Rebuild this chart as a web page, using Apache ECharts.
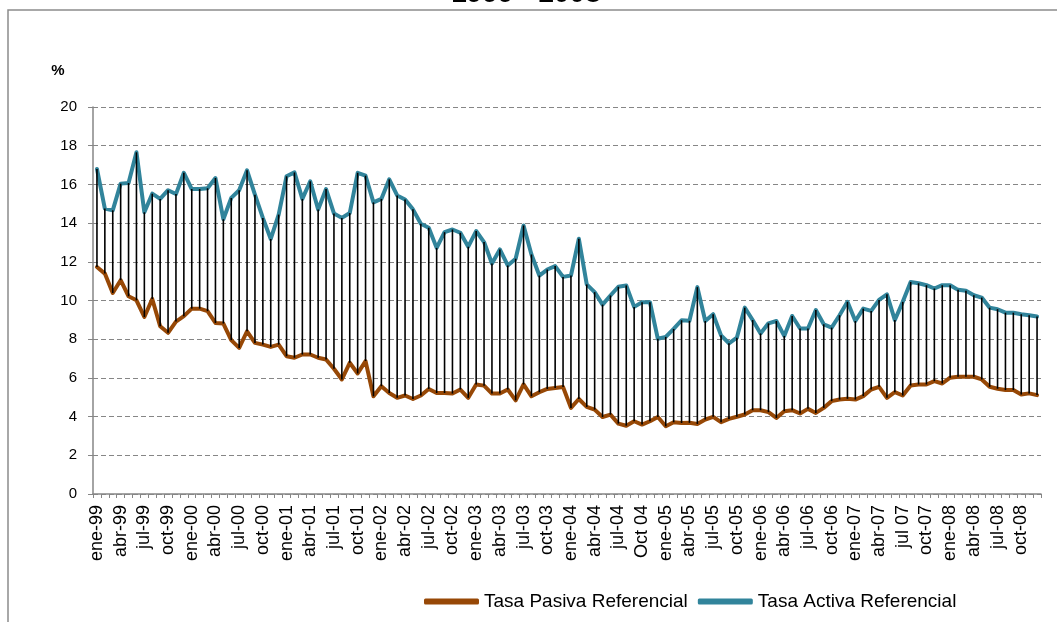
<!DOCTYPE html>
<html>
<head>
<meta charset="utf-8">
<script src="https://cdn.jsdelivr.net/npm/echarts@6/dist/echarts.min.js"></script>
<style>
html,body{margin:0;padding:0;background:#fff;}
#c{width:1057px;height:622px;}
</style>
</head>
<body>
<div id="c"></div>
<script>
const categories = [
'ene-99','feb-99','mar-99','abr-99','may-99','jun-99','jul-99','ago-99','sep-99','oct-99','nov-99','dic-99',
'ene-00','feb-00','mar-00','abr-00','may-00','jun-00','jul-00','ago-00','sep-00','oct-00','nov-00','dic-00',
'ene-01','feb-01','mar-01','abr-01','may-01','jun-01','jul-01','ago-01','sep-01','oct-01','nov-01','dic-01',
'ene-02','feb-02','mar-02','abr-02','may-02','jun-02','jul-02','ago-02','sep-02','oct-02','nov-02','dic-02',
'ene-03','feb-03','mar-03','abr-03','may-03','jun-03','jul-03','ago-03','sep-03','oct-03','nov-03','dic-03',
'ene-04','feb-04','mar-04','abr-04','may-04','jun-04','jul-04','ago-04','sep-04','Oct 04','nov-04','dic-04',
'ene-05','feb-05','mar-05','abr-05','may-05','jun-05','jul-05','ago-05','sep-05','oct-05','nov-05','dic-05',
'ene-06','feb-06','mar-06','abr-06','may-06','jun-06','jul-06','ago-06','sep-06','oct-06','nov-06','dic-06',
'ene-07','feb-07','mar-07','abr-07','may-07','jun-07','jul 07','ago-07','sep-07','oct-07','nov-07','dic-07',
'ene-08','feb-08','mar-08','abr-08','may-08','jun-08','jul-08','ago-08','sep-08','oct-08','nov-08','dic-08'
];

const tasaActiva = [
16.8, 14.75, 14.66, 16.04, 16.07, 17.66, 14.56, 15.52, 15.25, 15.7, 15.5, 16.6,
15.76, 15.76, 15.8, 16.33, 14.2, 15.3, 15.7, 16.73, 15.47, 14.27, 13.18, 14.44,
16.42, 16.62, 15.25, 16.16, 14.7, 15.76, 14.5, 14.27, 14.52, 16.6, 16.45, 15.07,
15.25, 16.26, 15.43, 15.22, 14.71, 13.97, 13.76, 12.72, 13.53, 13.67, 13.5, 12.78,
13.59, 13.02, 11.91, 12.64, 11.81, 12.16, 13.88, 12.38, 11.29, 11.6, 11.78, 11.22,
11.29, 13.19, 10.83, 10.43, 9.79, 10.26, 10.71, 10.78, 9.67, 9.91, 9.91, 8.02,
8.12, 8.53, 8.98, 8.95, 10.69, 8.94, 9.29, 8.2, 7.79, 8.08, 9.63, 8.99,
8.3, 8.82, 8.94, 8.17, 9.2, 8.55, 8.55, 9.51, 8.77, 8.6, 9.24, 9.93,
8.94, 9.58, 9.46, 10.03, 10.32, 8.99, 9.93, 10.96, 10.89, 10.79, 10.62, 10.79,
10.79, 10.55, 10.5, 10.27, 10.15, 9.63, 9.55, 9.37, 9.37, 9.29, 9.24, 9.17
];

const tasaPasiva = [
11.73, 11.39, 10.39, 11.05, 10.22, 10.01, 9.15, 10.08, 8.67, 8.33, 8.91, 9.19,
9.58, 9.58, 9.45, 8.84, 8.81, 7.95, 7.55, 8.41, 7.81, 7.72, 7.6, 7.72,
7.12, 7.04, 7.21, 7.21, 7.04, 6.95, 6.47, 5.92, 6.78, 6.23, 6.87, 5.05,
5.57, 5.22, 4.97, 5.09, 4.91, 5.09, 5.43, 5.22, 5.22, 5.19, 5.4, 4.97,
5.66, 5.6, 5.19, 5.19, 5.4, 4.84, 5.66, 5.05, 5.26, 5.43, 5.48, 5.53,
4.45, 4.91, 4.5, 4.36, 3.98, 4.1, 3.64, 3.53, 3.76, 3.59, 3.76, 3.98,
3.5, 3.71, 3.67, 3.68, 3.62, 3.85, 3.99, 3.71, 3.88, 3.99, 4.11, 4.33,
4.33, 4.23, 3.93, 4.28, 4.33, 4.16, 4.4, 4.19, 4.45, 4.8, 4.88, 4.92,
4.88, 5.06, 5.4, 5.54, 4.97, 5.26, 5.09, 5.61, 5.66, 5.66, 5.83, 5.71,
6.01, 6.06, 6.06, 6.06, 5.92, 5.54, 5.44, 5.37, 5.37, 5.14, 5.2, 5.11
];

const seriesNames = ['Tasa Pasiva Referencial', 'Tasa Activa Referencial'];
const titleText = '1999 - 2008';
const unitText = '%';

const FONT = '"Liberation Sans", Arial, sans-serif';
const chart = echarts.init(document.getElementById('c'), null, {renderer: 'canvas'});

const hiloData = categories.map((c, i) => [i, tasaPasiva[i], tasaActiva[i]]);

const option = {
  animation: false,
  backgroundColor: '#fff',
  textStyle: {fontFamily: FONT},
  grid: {left: 93, right: 16, top: 107, bottom: 128, containLabel: false},
  graphic: [
    {type: 'rect', silent: true, shape: {x: 8, y: 10, width: 1200, height: 800},
     style: {fill: 'none', stroke: '#8c8c8c', lineWidth: 1.5}, z: -10},
    {type: 'text', silent: true, x: 526, y: -6,
     style: {text: titleText, font: 'bold 28px ' + FONT, fill: '#000', align: 'center', verticalAlign: 'middle'}},
    {type: 'text', silent: true, x: 58, y: 71,
     style: {text: unitText, font: 'bold 15px ' + FONT, fill: '#000', align: 'center', verticalAlign: 'middle'}}
  ],
  legend: {
    data: seriesNames,
    left: 419, top: 587,
    icon: 'roundRect',
    itemWidth: 55, itemHeight: 6, itemGap: 10,
    textStyle: {fontSize: 19, color: '#000', fontFamily: FONT}
  },
  xAxis: {
    type: 'category', data: categories, boundaryGap: true,
    axisLine: {lineStyle: {color: '#868686', width: 1.5}},
    axisTick: {show: true, interval: 0, length: 4, lineStyle: {color: '#868686', width: 1}},
    axisLabel: {interval: 2, rotate: 90, fontSize: 18, color: '#000', margin: 11, fontFamily: FONT},
    splitLine: {show: false}
  },
  yAxis: {
    type: 'value', min: 0, max: 20, interval: 2,
    axisLine: {show: true, lineStyle: {color: '#868686', width: 1.5}},
    axisTick: {show: true, length: 5, lineStyle: {color: '#868686'}},
    axisLabel: {fontSize: 15, color: '#000', margin: 16, fontFamily: FONT},
    splitLine: {show: true, lineStyle: {color: '#868686', width: 1, type: [5, 3]}}
  },
  series: [
    {name: seriesNames[0], type: 'line', data: tasaPasiva, symbol: 'none',
     lineStyle: {color: '#974806', width: 4, join: 'round', cap: 'round'},
     itemStyle: {color: '#974806'}, z: 2},
    {name: seriesNames[1], type: 'line', data: tasaActiva, symbol: 'none',
     lineStyle: {color: '#31849B', width: 4, join: 'round', cap: 'round'},
     itemStyle: {color: '#31849B'}, z: 2},
    {name: 'hilo', type: 'custom', data: hiloData, silent: true, z: 3,
     encode: {x: 0, y: [1, 2]},
     renderItem: function (params, api) {
       const p1 = api.coord([api.value(0), api.value(1)]);
       const p2 = api.coord([api.value(0), api.value(2)]);
       return {type: 'line', shape: {x1: p1[0], y1: p1[1], x2: p2[0], y2: p2[1]},
               style: {stroke: '#000', lineWidth: 1.6}};
     }}
  ]
};
chart.setOption(option);
</script>
</body>
</html>
